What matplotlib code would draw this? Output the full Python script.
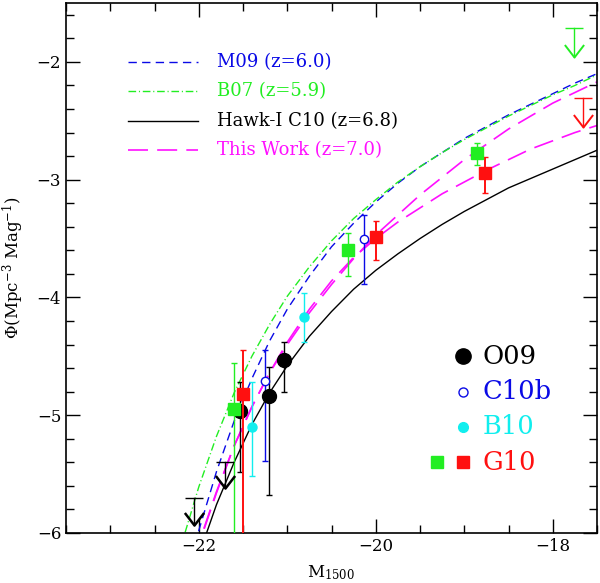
import matplotlib
matplotlib.use("Agg")
import matplotlib.pyplot as plt
from matplotlib.ticker import MultipleLocator

plt.rcParams['font.family'] = ['DejaVu Serif']
plt.rcParams['mathtext.fontset'] = 'dejavuserif'

# Schechter curves (M1500, log Phi)
M_grid = [-22.2, -22.0, -21.8, -21.6, -21.4, -21.2, -21.0, -20.75, -20.5, -20.25,
          -20.0, -19.75, -19.5, -19.25, -19.0, -18.75, -18.5, -18.25, -18.0, -17.75, -17.5]
m09 = [-6.57, -5.98, -5.48, -5.05, -4.69, -4.37, -4.10, -3.82, -3.57, -3.37,
       -3.19, -3.03, -2.89, -2.77, -2.65, -2.55, -2.45, -2.36, -2.27, -2.18, -2.10]
b07 = [-6.11, -5.61, -5.18, -4.81, -4.50, -4.23, -3.99, -3.74, -3.52, -3.33,
       -3.17, -3.02, -2.89, -2.77, -2.66, -2.56, -2.46, -2.37, -2.28, -2.20, -2.11]
hawk_c10 = [-6.66, -6.19, -5.76, -5.40, -5.08, -4.81, -4.58, -4.33, -4.12, -3.93,
            -3.77, -3.63, -3.50, -3.38, -3.27, -3.17, -3.07, -2.99, -2.91, -2.83, -2.75]
this_work_a = [-6.55, -6.10, -5.66, -5.26, -4.93, -4.64, -4.40, -4.13, -3.89, -3.67,
               -3.47, -3.30, -3.13, -2.98, -2.83, -2.70, -2.57, -2.46, -2.35, -2.26, -2.17]
this_work_b = [-6.55, -6.09, -5.65, -5.26, -4.93, -4.64, -4.38, -4.10, -3.86, -3.66,
               -3.50, -3.36, -3.24, -3.12, -3.02, -2.92, -2.83, -2.74, -2.67, -2.60, -2.54]

# O09 points
o09_M = [-21.53, -21.21, -21.04]
o09_phi = [-4.96, -4.84, -4.53]
o09_up = [-4.72, -4.59, -4.38]
o09_lo = [-5.48, -5.68, -4.80]
o09_lim_M = [-22.05, -21.70]
o09_lim_top = [-5.70, -5.40]
o09_lim_tip = [-5.93, -5.62]

# C10b points
c10b_M = [-21.25, -20.13]
c10b_phi = [-4.71, -3.50]
c10b_up = [-4.45, -3.30]
c10b_lo = [-5.39, -3.89]

# B10 points
b10_M = [-21.40, -20.81]
b10_phi = [-5.10, -4.17]
b10_up = [-4.72, -3.96]
b10_lo = [-5.52, -4.38]

# G10 points (two samples)
g10a_M = [-21.60, -20.31, -18.86]
g10a_phi = [-4.95, -3.60, -2.77]
g10a_up = [-4.56, -3.45, -2.69]
g10a_lo = [-6.60, -3.82, -2.875]
g10a_lim_M = [-17.76]
g10a_lim_top = [-1.71]
g10a_lim_tip = [-1.96]

g10b_M = [-21.50, -20.00, -18.77]
g10b_phi = [-4.82, -3.49, -2.94]
g10b_up = [-4.45, -3.35, -2.81]
g10b_lo = [-6.60, -3.68, -3.11]
g10b_lim_M = [-17.66]
g10b_lim_top = [-2.31]
g10b_lim_tip = [-2.55]

BLUE = '#0a0ae6'
GREEN = '#22ee22'
MAGENTA = '#ff10ff'
CYAN = '#11eeee'
RED = '#ff1010'

chevron = [(-1, 1.3), (0, 0), (1, 1.3)]


def err(phi, up, lo):
    return [[p - l for p, l in zip(phi, lo)], [u - p for u, p in zip(up, phi)]]


def upper_limits(ax, xs, tops, tips, color, lw):
    for x, t, b in zip(xs, tops, tips):
        ax.plot([x, x], [t, b], color=color, lw=1.0, zorder=6)
        ax.plot([x], [t], marker='_', ms=13.5, mew=1.0, color=color, zorder=6)
        ax.plot([x], [b], marker=chevron, ms=18, mew=lw, mfc='none', mec=color, zorder=6)


fig = plt.figure(figsize=(6.0, 5.83), dpi=100)
ax = fig.add_axes([0.11, 0.0858, 0.885, 0.909])

ax.plot(M_grid, m09, color=BLUE, lw=1.0, dashes=(6.0, 3.8), zorder=2)
ax.plot(M_grid, b07, color=GREEN, lw=1.0, dashes=(5.5, 2.0, 0.8, 2.0), zorder=2)
ax.plot(M_grid, hawk_c10, color='black', lw=1.0, zorder=2)
ax.plot(M_grid, this_work_a, color=MAGENTA, lw=1.2, dashes=(12, 5.5), zorder=2)
ax.plot(M_grid, this_work_b, color=MAGENTA, lw=1.2, dashes=(12, 5.5), zorder=2)

# error bars
ax.errorbar(c10b_M, c10b_phi, yerr=err(c10b_phi, c10b_up, c10b_lo), fmt='o', ms=6,
            mfc='white', mec=BLUE, mew=1.0, ecolor=BLUE, elinewidth=1.0, capsize=2.5, zorder=4)
ax.errorbar(b10_M, b10_phi, yerr=err(b10_phi, b10_up, b10_lo), fmt='o', ms=6.5,
            color=CYAN, ecolor=CYAN, elinewidth=1.0, capsize=2.5, zorder=4)
ax.errorbar(o09_M, o09_phi, yerr=err(o09_phi, o09_up, o09_lo), fmt='o', ms=10,
            color='black', ecolor='black', elinewidth=1.0, capsize=2.5, zorder=4)
ax.errorbar(g10a_M, g10a_phi, yerr=err(g10a_phi, g10a_up, g10a_lo), fmt='s', ms=8.5,
            color=GREEN, ecolor=GREEN, elinewidth=1.0, capsize=2.5, zorder=5)
ax.errorbar(g10b_M, g10b_phi, yerr=err(g10b_phi, g10b_up, g10b_lo), fmt='s', ms=8.5,
            color=RED, ecolor=RED, elinewidth=1.4, capsize=2.5, zorder=5)

upper_limits(ax, o09_lim_M, o09_lim_top, o09_lim_tip, 'black', 1.8)
upper_limits(ax, g10a_lim_M, g10a_lim_top, g10a_lim_tip, GREEN, 1.4)
upper_limits(ax, g10b_lim_M, g10b_lim_top, g10b_lim_tip, RED, 1.4)

# legend for curves (top left)
leg_lines = [
    ('M09 (z=6.0)', BLUE, dict(dashes=(6.0, 3.8), lw=1.0)),
    ('B07 (z=5.9)', GREEN, dict(dashes=(5.5, 2.0, 0.8, 2.0), lw=1.0)),
    ('Hawk-I C10 (z=6.8)', 'black', dict(lw=1.0)),
    ('This Work (z=7.0)', MAGENTA, dict(dashes=(12, 5.5), lw=1.2)),
]
for i, (label, col, kw) in enumerate(leg_lines):
    y = -2.0 - 0.25 * i
    ax.plot([-22.80, -22.01], [y, y], color=col, **kw)
    ax.text(-21.79, y, label, color=col, fontsize=13, va='center', ha='left')

# legend for points (lower right)
ax.plot([-19.01], [-4.50], 'o', ms=11, color='black')
ax.text(-18.79, -4.50, 'O09', color='black', fontsize=18.5, va='center')
ax.plot([-19.01], [-4.80], 'o', ms=6.5, mfc='white', mec=BLUE, mew=1.0)
ax.text(-18.79, -4.80, 'C10b', color=BLUE, fontsize=18.5, va='center')
ax.plot([-19.01], [-5.10], 'o', ms=7, color=CYAN)
ax.text(-18.79, -5.10, 'B10', color=CYAN, fontsize=18.5, va='center')
ax.plot([-19.31], [-5.40], 's', ms=8.5, color=GREEN)
ax.plot([-19.01], [-5.40], 's', ms=8.5, color=RED)
ax.text(-18.79, -5.40, 'G10', color=RED, fontsize=18.5, va='center')

ax.set_xlim(-23.5, -17.5)
ax.set_ylim(-6, -1.5)
ax.xaxis.set_major_locator(MultipleLocator(2))
ax.xaxis.set_minor_locator(MultipleLocator(0.5))
ax.yaxis.set_major_locator(MultipleLocator(1))
ax.yaxis.set_minor_locator(MultipleLocator(0.2))
ax.tick_params(which='both', direction='in', top=True, right=True, labelsize=12)
ax.tick_params(which='major', length=10, width=1.0)
ax.tick_params(which='minor', length=5.5, width=1.0)
for s in ax.spines.values():
    s.set_linewidth(1.2)

ax.set_xlabel(r'M$_{1500}$', fontsize=12, labelpad=6)
ax.set_ylabel(r'$\Phi$(Mpc$^{-3}$ Mag$^{-1}$)', fontsize=12, labelpad=8)

fig.savefig('out.png', dpi=100)
